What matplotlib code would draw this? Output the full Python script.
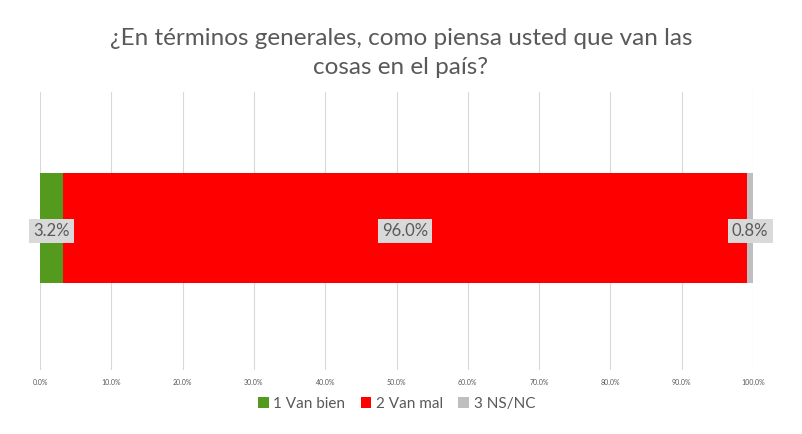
import matplotlib.pyplot as plt
from matplotlib.ticker import PercentFormatter

categories = ['1 Van bien', '2 Van mal', '3 NS/NC']
values = [3.2, 96.0, 0.8]
colors = ['#549A1E', '#FF0000', '#BFBFBF']
ticks = [0, 10, 20, 30, 40, 50, 60, 70, 80, 90, 100]
title = '¿En términos generales, como piensa usted que van las\ncosas en el país?'

plt.rcParams['font.family'] = ['Lato', 'DejaVu Sans']

fig = plt.figure(figsize=(8.02, 4.34), dpi=100)
ax = fig.add_axes([0.0499, 0.147, 0.889, 0.641])

left = 0
for cat, val, col in zip(categories, values, colors):
    ax.barh(0.01, val, left=left, height=0.396, color=col, label=cat, zorder=2)
    ax.text(left + val / 2, 0.0, f'{val:.1f}%', ha='center', va='center',
            fontsize=12, color='#595959', zorder=3,
            bbox=dict(boxstyle='square,pad=0.25', fc='#D9D9D9', ec='none'))
    left += val

ax.set_xlim(0, 100)
ax.set_ylim(-0.5, 0.5)
ax.set_xticks(ticks)
ax.xaxis.set_major_formatter(PercentFormatter(decimals=1))
ax.tick_params(axis='x', labelsize=5, colors='#595959', length=0, pad=6)
ax.set_yticks([])
ax.grid(axis='x', color='#D9D9D9', linewidth=0.8, zorder=0)
for s in ax.spines.values():
    s.set_visible(False)

fig.text(0.5, 0.935, title, ha='center', va='top', fontsize=17.5,
         color='#595959', linespacing=1.45)

ax.legend(loc='center', bbox_to_anchor=(0.5, -0.12), ncol=3, frameon=False,
          fontsize=11, handlelength=0.7, handleheight=0.7, handletextpad=0.3,
          columnspacing=1.0, labelcolor='#595959')

fig.savefig('out.png', dpi=100)
